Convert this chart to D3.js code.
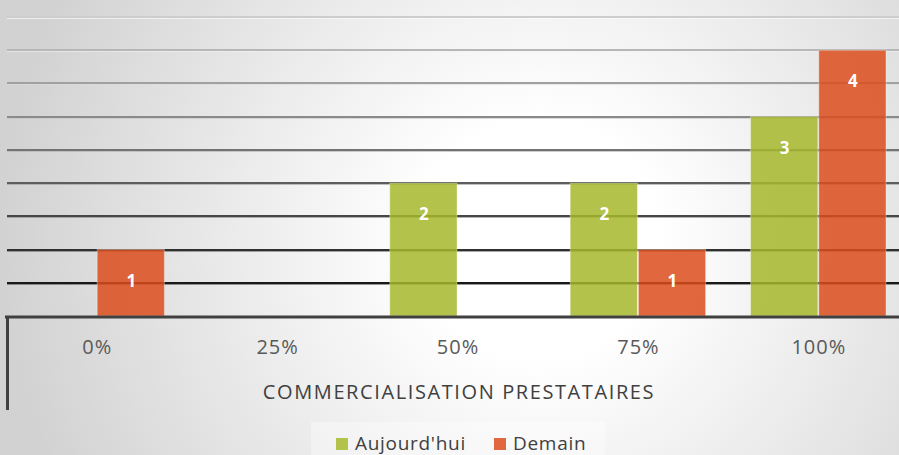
<!DOCTYPE html>
<html><head><meta charset="utf-8">
<script src="https://cdn.jsdelivr.net/npm/d3@7"></script>
<style>html,body{margin:0;padding:0;overflow:hidden;background:#fff}</style>
</head><body>
<svg id="chart" width="899" height="455"></svg>
<script>
const categories = ["0%", "25%", "50%", "75%", "100%"];
const seriesNames = ["Aujourd'hui", "Demain"];
const aujourdhui = [0, 0, 2, 2, 3];
const demain = [1, 0, 0, 1, 4];
const gridTicks = [0.5, 1, 1.5, 2, 2.5, 3, 3.5, 4, 4.5];
const axisTitle = "COMMERCIALISATION PRESTATAIRES";

const W = 899, H = 455;
const svg = d3.select("#chart");
const defs = svg.append("defs");
const bg = defs.append("radialGradient").attr("id","bg").attr("gradientUnits","userSpaceOnUse")
  .attr("cx",540).attr("cy",240).attr("r",540);
bg.append("stop").attr("offset","0%").attr("stop-color","#ffffff");
bg.append("stop").attr("offset","22%").attr("stop-color","#ffffff");
bg.append("stop").attr("offset","100%").attr("stop-color","#d2d2d2");
svg.append("rect").attr("width",W).attr("height",H).attr("fill","url(#bg)");

const pLeft = 7, pRight = 909, pTop = 17, pBottom = 316;
const x = d3.scaleBand().domain(categories).range([pLeft, pRight]);
const x1 = d3.scaleBand().domain(seriesNames).range([22, x.bandwidth()-22]);
const y = d3.scaleLinear().domain([0, 4.5]).range([pBottom, pTop]);
const colors = {"Aujourd'hui": "#a6b72a", "Demain": "#dc4c1d"};
const font = "'Open Sans', sans-serif";

// gridlines
const gc = d3.scaleLinear().domain([0, gridTicks.length-1]).range([205, 25]);
const grid = svg.append("g");
gridTicks.forEach((t, i) => {
  const v = Math.round(gc(gridTicks.length-1-i));
  const yy = Math.round(y(t));
  const lv = Math.min(255, v + 60);
  grid.append("line").attr("x1", pLeft).attr("x2", W).attr("y1", yy+1.5).attr("y2", yy+1.5)
    .attr("stroke", d3.rgb(lv, lv, lv)).attr("stroke-width",1).attr("opacity",0.6);
  grid.append("line").attr("x1", pLeft).attr("x2", W).attr("y1", yy).attr("y2", yy)
    .attr("stroke", d3.rgb(v,v,v)).attr("stroke-width",2);
});

// bars
const data = categories.map((c, i) => ({cat: c, vals: [
  {name: seriesNames[0], v: aujourdhui[i]}, {name: seriesNames[1], v: demain[i]}]}));
const groups = svg.append("g").selectAll("g").data(data).join("g")
  .attr("transform", d => `translate(${x(d.cat)},0)`);
groups.selectAll("rect").data(d => d.vals.filter(e => e.v > 0)).join("rect")
  .attr("x", d => x1(d.name)).attr("width", x1.bandwidth()-1)
  .attr("y", d => y(d.v)).attr("height", d => y(0) - y(d.v))
  .attr("fill", d => colors[d.name]).attr("fill-opacity", 0.85)
  .attr("stroke", "rgba(255,255,255,0.35)").attr("stroke-width", 1);
groups.selectAll("text").data(d => d.vals.filter(e => e.v > 0)).join("text")
  .attr("x", d => x1(d.name) + x1.bandwidth()/2).attr("y", d => y(d.v) + 37)
  .attr("text-anchor", "middle").attr("fill", "#fff")
  .style("font-family", font).style("font-weight", "bold").style("font-size", "17px")
  .text(d => d.v);

// axis
const xAxis = svg.append("g").attr("transform", `translate(0,${pBottom})`)
  .call(d3.axisBottom(x).tickSize(0).tickPadding(0));
xAxis.select(".domain").remove();
xAxis.selectAll("text").attr("dy", null).attr("y", 38).attr("fill", "#595959")
  .style("font-family", font).style("font-size", "20px").style("letter-spacing", "1px");
svg.append("line").attr("x1", 5).attr("x2", W).attr("y1", pBottom+1).attr("y2", pBottom+1)
  .attr("stroke", "#404040").attr("stroke-width", 3);
svg.append("line").attr("x1", 7.5).attr("x2", 7.5).attr("y1", pBottom).attr("y2", 410)
  .attr("stroke", "#404040").attr("stroke-width", 3);

svg.append("text").attr("x", 459).attr("y", 399).attr("text-anchor", "middle")
  .attr("fill", "#404040").style("font-family", font).style("font-size", "20px")
  .style("letter-spacing", "1.6px")
  .text(axisTitle);

// legend
svg.append("rect").attr("x", 311).attr("y", 422).attr("width", 294).attr("height", 33)
  .attr("fill", "#fff").attr("opacity", 0.35);
const legX = [336, 494];
const legColors = ["#b3c24a", "#e1673f"];
const leg = svg.append("g").selectAll("g").data(seriesNames).join("g")
  .attr("transform", (d, i) => `translate(${legX[i]},438)`);
leg.append("rect").attr("width", 12).attr("height", 12).attr("fill", (d,i) => legColors[i]);
leg.append("text").attr("x", 19).attr("y", 12).attr("fill", "#404040")
  .style("font-family", font).style("font-size", "19px").style("letter-spacing", "0.7px").text(d => d);
</script>
</body></html>
